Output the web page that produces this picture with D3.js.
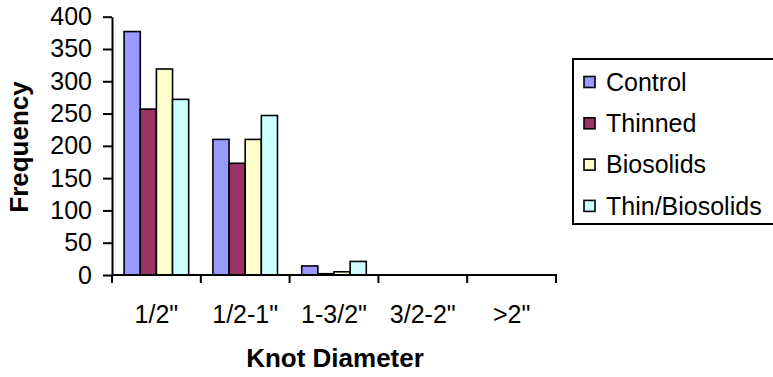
<!DOCTYPE html>
<html>
<head>
<meta charset="utf-8">
<script src="https://cdn.jsdelivr.net/npm/d3@7"></script>
<style>
  html, body { margin: 0; padding: 0; background: #fff; }
  svg { display: block; font-family: "Liberation Sans", Arial, sans-serif; }
</style>
</head>
<body>
<svg id="chart" width="773" height="377"></svg>
<script>
// Knot diameter classes
const categories = ['1/2"', '1/2-1"', '1-3/2"', '3/2-2"', '>2"'];
// Treatments
const seriesNames = ["Control", "Thinned", "Biosolids", "Thin/Biosolids"];
// Frequency of knots per class, one array per treatment
const control = [377, 210, 14, 0, 0];
const thinned = [257, 173, 2, 0, 0];
const biosolids = [319, 210, 5, 0, 0];
const thinBiosolids = [272, 247, 21, 0, 0];
const yTicks = [0, 50, 100, 150, 200, 250, 300, 350, 400];
const colors = ["#9999FF", "#993366", "#FFFFCC", "#CCFFFF"];

const seriesValues = [control, thinned, biosolids, thinBiosolids];

const svg = d3.select("#chart");

const x0 = d3.scaleBand().domain(categories).range([112, 556]).padding(0);
const x1 = d3.scaleBand().domain(seriesNames).range([0, x0.bandwidth()])
  .paddingInner(0).paddingOuter(0.75);
const y = d3.scaleLinear().domain([0, 400]).range([275, 16.7]);
const color = d3.scaleOrdinal().domain(seriesNames).range(colors);

// Bars
const groups = svg.append("g").selectAll("g")
  .data(categories)
  .join("g")
  .attr("transform", d => `translate(${x0(d)},0)`);

groups.selectAll("rect")
  .data((c, i) => seriesNames.map((s, j) => ({ s, v: seriesValues[j][i] })))
  .join("rect")
  .filter(d => d.v > 0)
  .attr("x", d => x1(d.s))
  .attr("width", x1.bandwidth())
  .attr("y", d => y(d.v))
  .attr("height", d => y(0) - y(d.v))
  .attr("fill", d => color(d.s))
  .attr("stroke", "#000")
  .attr("stroke-width", 1.6);

// Y axis
const yAxis = svg.append("g")
  .attr("transform", "translate(112,0)")
  .call(d3.axisLeft(y).tickValues(yTicks).tickSize(9).tickPadding(11).tickSizeOuter(0));
yAxis.select(".domain").attr("stroke", "#000").attr("stroke-width", 2);
yAxis.selectAll(".tick line").attr("stroke", "#000").attr("stroke-width", 2);
yAxis.selectAll(".tick text").attr("font-size", 25).attr("fill", "#000")
  .attr("font-family", "Liberation Sans, Arial, sans-serif");

// X axis: ticks on category boundaries
svg.append("line")
  .attr("x1", 112).attr("x2", 557)
  .attr("y1", y(0)).attr("y2", y(0))
  .attr("stroke", "#000").attr("stroke-width", 2);
const boundaries = categories.map(c => x0(c)).concat([x0(categories[categories.length - 1]) + x0.bandwidth()]);
svg.append("g").selectAll("line")
  .data(boundaries)
  .join("line")
  .attr("x1", d => d).attr("x2", d => d)
  .attr("y1", y(0)).attr("y2", y(0) + 8)
  .attr("stroke", "#000").attr("stroke-width", 2);

svg.append("g").selectAll("text")
  .data(categories)
  .join("text")
  .attr("x", d => x0(d) + x0.bandwidth() / 2)
  .attr("y", 323)
  .attr("text-anchor", "middle")
  .attr("font-size", 25)
  .text(d => d);

// Axis titles
svg.append("text")
  .attr("x", 335).attr("y", 367)
  .attr("text-anchor", "middle")
  .attr("font-size", 26).attr("font-weight", "bold")
  .text("Knot Diameter");

svg.append("text")
  .attr("transform", "translate(28,147) rotate(-90)")
  .attr("text-anchor", "middle")
  .attr("font-size", 26).attr("font-weight", "bold")
  .text("Frequency");

// Legend
const legend = svg.append("g");
legend.append("rect")
  .attr("x", 573).attr("y", 59)
  .attr("width", 210).attr("height", 165)
  .attr("fill", "none").attr("stroke", "#000").attr("stroke-width", 2);

const items = legend.selectAll("g.item")
  .data(seriesNames)
  .join("g")
  .attr("class", "item")
  .attr("transform", (d, i) => `translate(0,${82 + i * 41.3})`);
items.append("rect")
  .attr("x", 584).attr("y", -5.5)
  .attr("width", 11).attr("height", 11)
  .attr("fill", d => color(d))
  .attr("stroke", "#000").attr("stroke-width", 1.6);
items.append("text")
  .attr("x", 606).attr("y", 0)
  .attr("dy", "0.35em")
  .attr("font-size", 25)
  .text(d => d);
</script>
</body>
</html>
